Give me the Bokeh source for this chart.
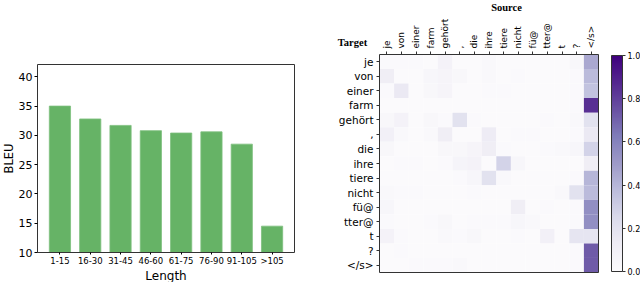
import math
from bokeh.plotting import figure
from bokeh.layouts import row
from bokeh.models import (Range1d, FixedTicker, ColorBar, LinearColorMapper, Label,
                          ColumnDataSource)
from bokeh.palettes import Purples256
from bokeh.embed import file_html
from bokeh.resources import INLINE

# ---------------- data ----------------
length_bins = ["1-15", "16-30", "31-45", "46-60", "61-75", "76-90", "91-105", ">105"]
bleu = [35.0, 32.8, 31.7, 30.8, 30.4, 30.6, 28.5, 14.5]
bleu_ticks = [10, 15, 20, 25, 30, 35, 40]

source_tokens = ["je", "von", "einer", "farm", "gehört", ",", "die", "ihre", "tiere",
                 "nicht", "fü@", "tter@", "t", "?", "</s>"]
target_tokens = ["je", "von", "einer", "farm", "gehört", ",", "die", "ihre", "tiere",
                 "nicht", "fü@", "tter@", "t", "?", "</s>"]
# rows = target tokens, columns = source tokens
attention = [
    [0.02, 0.02, 0.02, 0.01, 0.08, 0.01, 0.01, 0.03, 0.01, 0.01, 0.01, 0.01, 0.01, 0.04, 0.45],
    [0.12, 0.01, 0.01, 0.05, 0.06, 0.04, 0.01, 0.03, 0.01, 0.02, 0.01, 0.01, 0.01, 0.02, 0.38],
    [0.02, 0.15, 0.01, 0.04, 0.06, 0.01, 0.01, 0.02, 0.02, 0.01, 0.01, 0.01, 0.01, 0.02, 0.35],
    [0.01, 0.01, 0.01, 0.01, 0.01, 0.01, 0.01, 0.01, 0.01, 0.01, 0.01, 0.01, 0.01, 0.02, 0.85],
    [0.04, 0.08, 0.01, 0.04, 0.02, 0.20, 0.02, 0.01, 0.01, 0.01, 0.01, 0.02, 0.01, 0.03, 0.20],
    [0.10, 0.03, 0.01, 0.03, 0.12, 0.01, 0.01, 0.13, 0.01, 0.02, 0.02, 0.01, 0.01, 0.02, 0.15],
    [0.04, 0.01, 0.01, 0.01, 0.04, 0.04, 0.06, 0.12, 0.02, 0.01, 0.01, 0.02, 0.03, 0.05, 0.28],
    [0.01, 0.02, 0.02, 0.01, 0.02, 0.07, 0.08, 0.01, 0.28, 0.05, 0.01, 0.01, 0.01, 0.01, 0.12],
    [0.01, 0.01, 0.01, 0.01, 0.01, 0.02, 0.05, 0.20, 0.03, 0.01, 0.01, 0.01, 0.01, 0.02, 0.40],
    [0.03, 0.02, 0.02, 0.01, 0.01, 0.01, 0.02, 0.01, 0.01, 0.01, 0.01, 0.01, 0.03, 0.20, 0.38],
    [0.05, 0.01, 0.01, 0.01, 0.01, 0.01, 0.01, 0.01, 0.01, 0.12, 0.01, 0.02, 0.01, 0.02, 0.55],
    [0.02, 0.01, 0.01, 0.02, 0.04, 0.01, 0.02, 0.02, 0.02, 0.05, 0.03, 0.01, 0.01, 0.02, 0.55],
    [0.08, 0.02, 0.01, 0.01, 0.03, 0.02, 0.04, 0.01, 0.01, 0.02, 0.01, 0.10, 0.01, 0.18, 0.18],
    [0.01, 0.02, 0.01, 0.01, 0.01, 0.01, 0.01, 0.01, 0.01, 0.01, 0.01, 0.01, 0.01, 0.02, 0.72],
    [0.01, 0.01, 0.02, 0.02, 0.02, 0.03, 0.01, 0.01, 0.01, 0.01, 0.01, 0.01, 0.01, 0.02, 0.72],
]
cbar_ticks = [0.0, 0.2, 0.4, 0.6, 0.8, 1.0]

FONT = "DejaVu Sans"
SERIF = "Liberation Serif"
EDGE = "#333333"
H = 282


def axis_range_x(v0, v1, px0, px1, total):
    """Range whose values v0..v1 land on canvas pixels px0..px1 (frame = whole canvas)."""
    s = (v1 - v0) / (px1 - px0)
    start = v0 - px0 * s
    return Range1d(start, start + total * s)


def axis_range_y(v_bot, v_top, py_bot, py_top, total):
    """Same for y, with pixels measured from the top of the canvas."""
    s = (v_top - v_bot) / (py_bot - py_top)
    start = v_bot - (total - py_bot) * s
    return Range1d(start, start + total * s)


# ---------------- left: bar chart ----------------
W1 = 330
n_bins = len(length_bins)
bx0, bx1 = -0.74, n_bins - 0.26          # visible box in data units
by0, by1 = 10, 42.1
xs = list(range(n_bins))

p1 = figure(width=W1, height=H, output_backend="svg", toolbar_location=None,
            x_range=axis_range_x(bx0, bx1, 37, 294, W1),
            y_range=axis_range_y(by0, by1, 252, 64, H),
            min_border_left=0, min_border_right=0, min_border_top=0, min_border_bottom=0)
p1.vbar(x=xs, top=bleu, bottom=by0, width=0.7, fill_color="#66b366",
        line_color="#7dbf7d", line_width=0.8)
p1.rect(x=[(bx0 + bx1) / 2], y=[(by0 + by1) / 2], width=[bx1 - bx0], height=[by1 - by0],
        fill_color=None, line_color=EDGE, line_width=1)
p1.xgrid.visible = False
p1.ygrid.visible = False
p1.outline_line_color = None
p1.background_fill_color = "white"
p1.border_fill_color = "white"

p1.xaxis.fixed_location = by0
p1.xaxis.bounds = (bx0, bx1)
p1.xaxis.ticker = FixedTicker(ticks=xs)
p1.xaxis.major_label_overrides = {i: lab for i, lab in enumerate(length_bins)}
p1.xaxis.major_label_text_font_size = "8.5px"
p1.xaxis.major_label_text_font = FONT
p1.xaxis.major_label_text_color = "black"
p1.xaxis.major_label_standoff = 1
p1.xaxis.major_tick_out = 2
p1.xaxis.major_tick_in = 0
p1.xaxis.minor_tick_line_color = None
p1.xaxis.axis_line_color = None
p1.xaxis.axis_label = "Length"
p1.xaxis.axis_label_text_font = FONT
p1.xaxis.axis_label_text_font_style = "normal"
p1.xaxis.axis_label_text_font_size = "12px"
p1.xaxis.axis_label_standoff = 0
p1.xaxis.axis_label_text_color = "black"

p1.yaxis.fixed_location = bx0
p1.yaxis.bounds = (by0, by1)
p1.yaxis.ticker = FixedTicker(ticks=bleu_ticks)
p1.yaxis.major_label_text_font_size = "11px"
p1.yaxis.major_label_text_font = FONT
p1.yaxis.major_label_text_color = "black"
p1.yaxis.major_label_standoff = 2
p1.yaxis.major_tick_out = 3
p1.yaxis.major_tick_in = 0
p1.yaxis.minor_tick_line_color = None
p1.yaxis.axis_line_color = None
p1.yaxis.axis_label = "BLEU"
p1.yaxis.axis_label_text_font = FONT
p1.yaxis.axis_label_text_font_style = "normal"
p1.yaxis.axis_label_text_font_size = "11.5px"
p1.yaxis.axis_label_standoff = 0
p1.yaxis.axis_label_text_color = "black"

# ---------------- right: attention heatmap ----------------
W2 = 310
n_src = len(source_tokens)
n_tgt = len(target_tokens)
cx, cy, cv = [], [], []
for r in range(n_tgt):
    for c in range(n_src):
        cx.append(c)
        cy.append(n_tgt - 1 - r)
        cv.append(attention[r][c])
cells = ColumnDataSource(dict(x=cx, y=cy, v=cv))

mapper = LinearColorMapper(palette=list(reversed(Purples256)), low=0.0, high=1.0)

p2 = figure(width=W2, height=H, output_backend="svg", toolbar_location=None,
            x_range=axis_range_x(-0.5, n_src - 0.5, 49, 268, W2),
            y_range=axis_range_y(-0.5, n_tgt - 0.5, 272, 54, H),
            x_axis_location="above",
            min_border_left=0, min_border_right=0, min_border_top=0, min_border_bottom=0)
p2.rect(x="x", y="y", width=1, height=1, source=cells,
        fill_color={"field": "v", "transform": mapper}, line_color=None)
p2.rect(x=[(n_src - 1) / 2], y=[(n_tgt - 1) / 2], width=[n_src], height=[n_tgt],
        fill_color=None, line_color=EDGE, line_width=1)
p2.xgrid.visible = False
p2.ygrid.visible = False
p2.outline_line_color = None
p2.background_fill_color = "white"
p2.border_fill_color = "white"

p2.xaxis.fixed_location = n_tgt - 0.5
p2.xaxis.bounds = (-0.5, n_src - 0.5)
p2.xaxis.ticker = FixedTicker(ticks=list(range(n_src)))
p2.xaxis.major_label_overrides = {i: t for i, t in enumerate(source_tokens)}
p2.xaxis.major_label_text_font_size = "9px"
p2.xaxis.major_label_orientation = math.pi / 2

p2.yaxis.fixed_location = -0.5
p2.yaxis.bounds = (-0.5, n_tgt - 0.5)
p2.yaxis.ticker = FixedTicker(ticks=list(range(n_tgt)))
p2.yaxis.major_label_overrides = {n_tgt - 1 - i: t for i, t in enumerate(target_tokens)}
p2.yaxis.major_label_text_font_size = "10.5px"

for ax in (p2.xaxis, p2.yaxis):
    ax.major_label_text_font = FONT
    ax.major_label_text_color = "black"
    ax.major_tick_out = 3
    ax.major_tick_in = 0
    ax.major_tick_line_color = EDGE
    ax.minor_tick_line_color = None
    ax.axis_line_color = None
    ax.major_label_standoff = 3

cbar = ColorBar(color_mapper=mapper, ticker=FixedTicker(ticks=cbar_ticks),
                location=(281, 11), height=216, width=11, padding=0, margin=0,
                label_standoff=2, major_tick_out=3, major_tick_in=0,
                major_tick_line_color=EDGE, minor_tick_line_color=None,
                major_label_text_font_size="8px", major_label_text_font=FONT,
                major_label_text_color="black",
                border_line_color=None, background_fill_color=None,
                bar_line_color=EDGE, bar_line_width=1,
                major_label_overrides={t: f"{t:.1f}" for t in cbar_ticks})
p2.add_layout(cbar)

p2.add_layout(Label(x=176, y=H - 7, x_units="screen", y_units="screen", text="Source",
                    text_font=SERIF, text_font_style="bold", text_font_size="10.5px",
                    text_align="center", text_baseline="middle", text_color="black"))
p2.add_layout(Label(x=22, y=H - 42, x_units="screen", y_units="screen", text="Target",
                    text_font=SERIF, text_font_style="bold", text_font_size="10.5px",
                    text_align="center", text_baseline="middle", text_color="black"))

layout = row(p1, p2)
open("out.html", "w").write(file_html(layout, INLINE))
